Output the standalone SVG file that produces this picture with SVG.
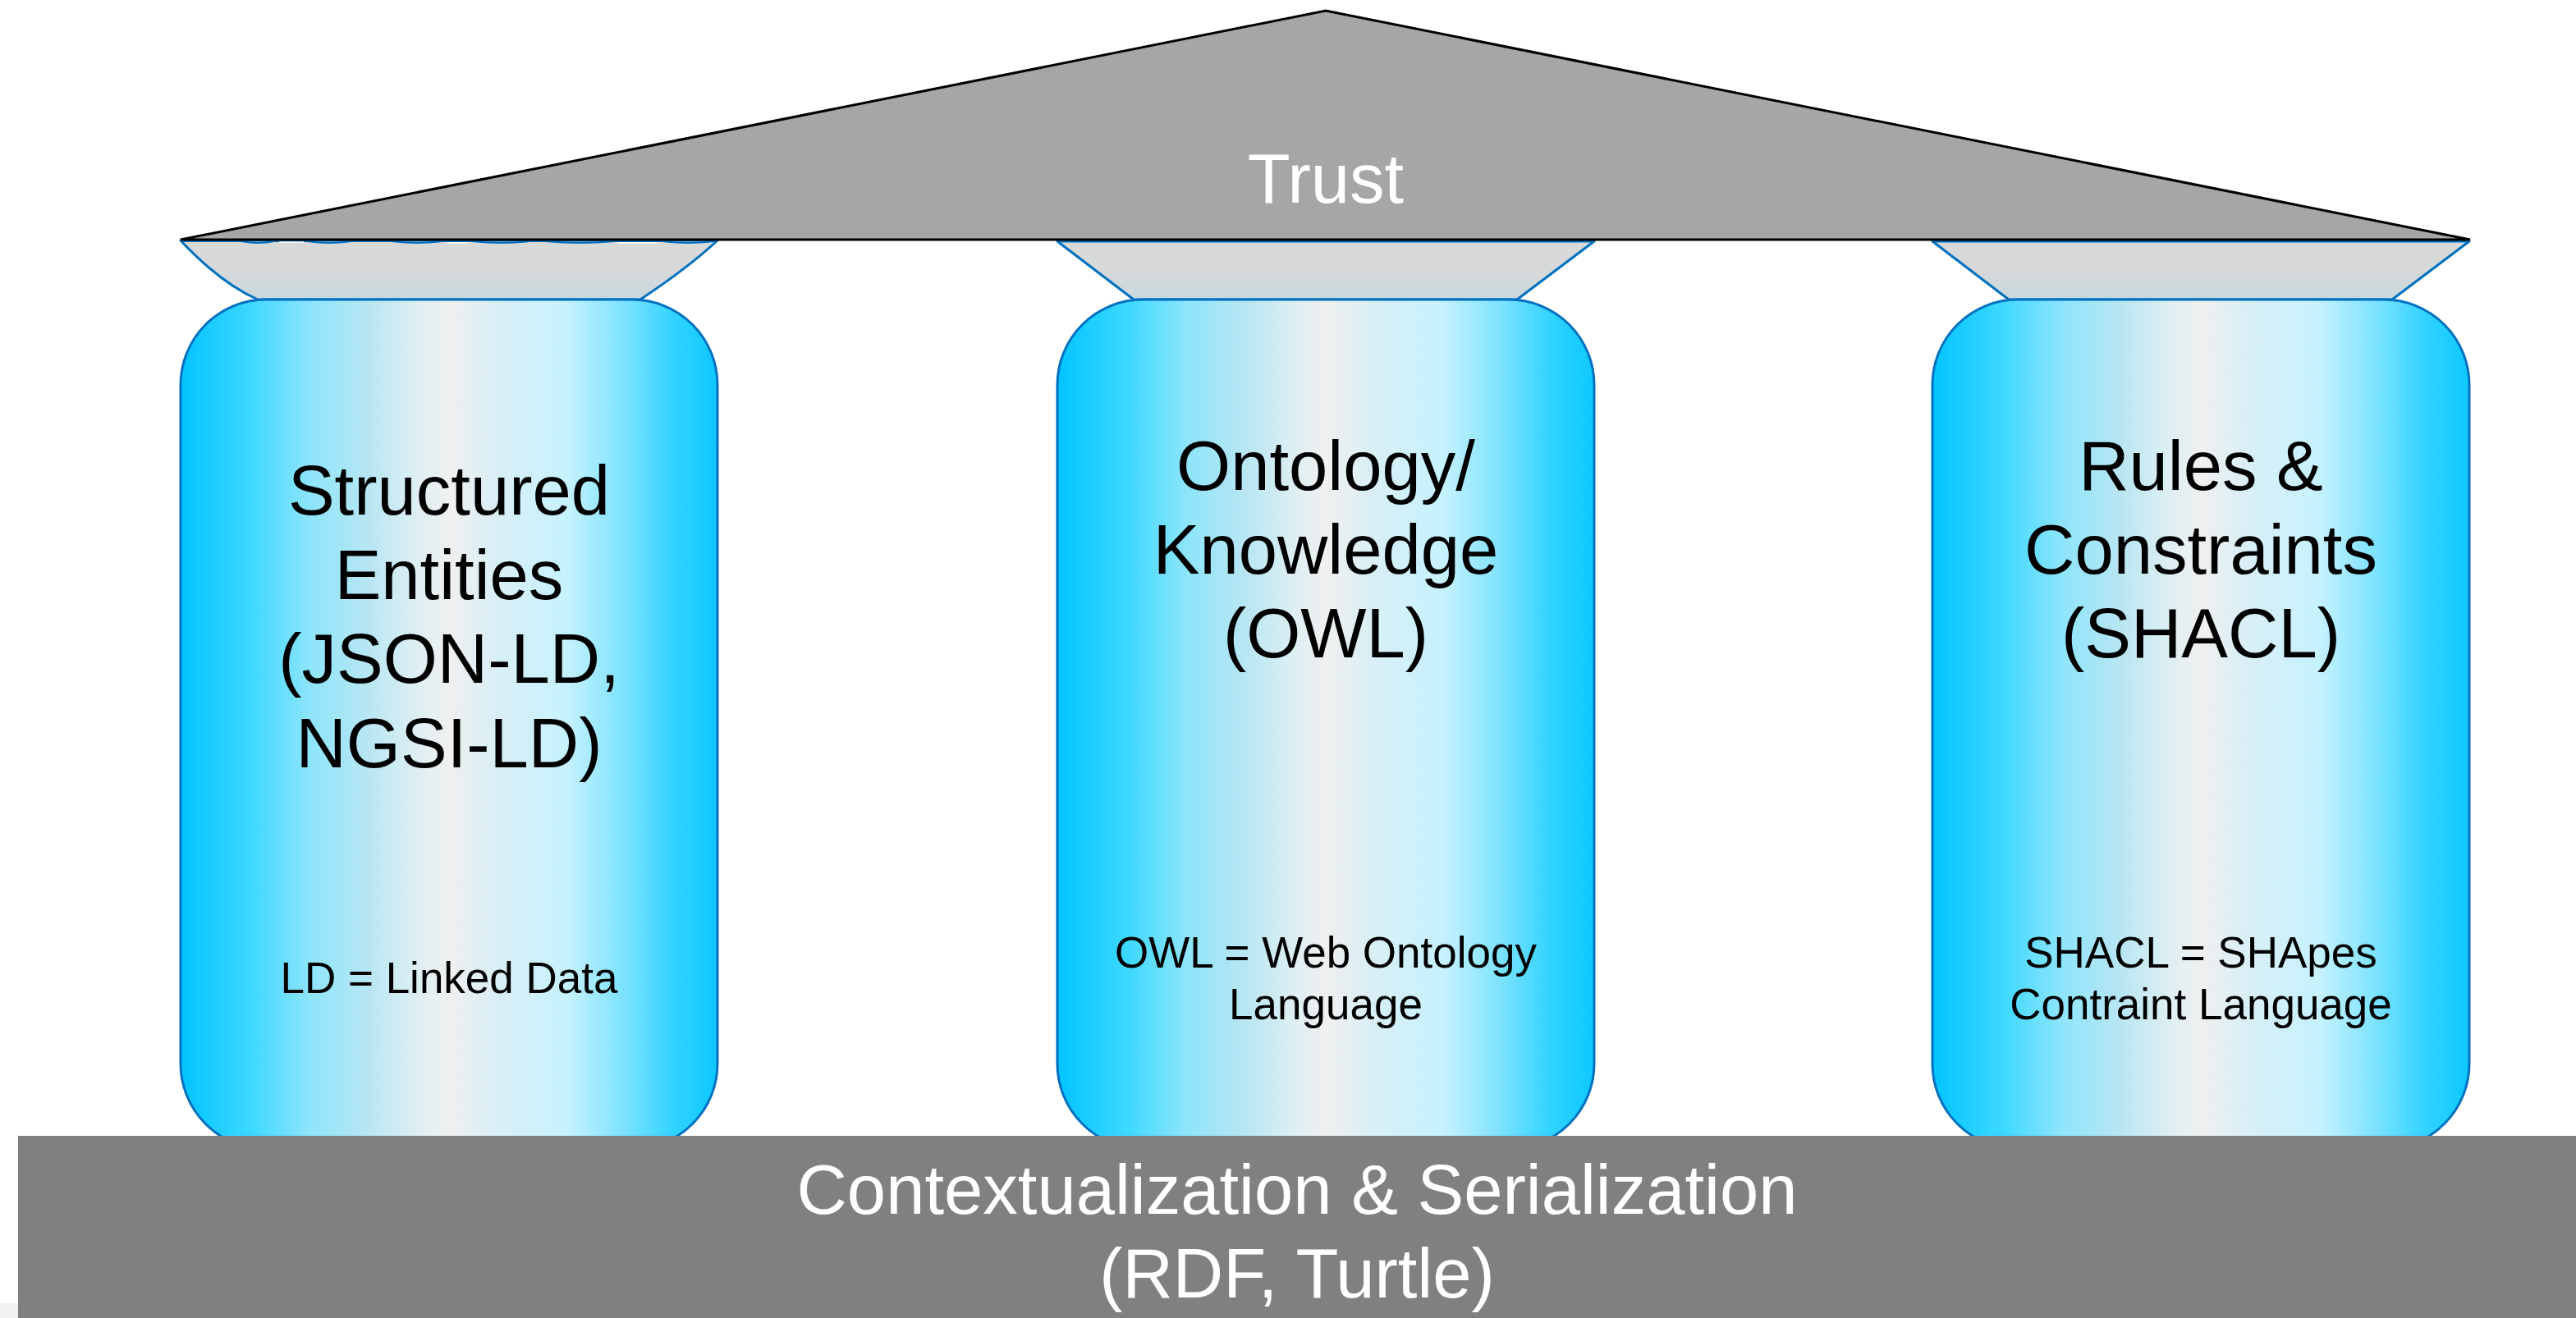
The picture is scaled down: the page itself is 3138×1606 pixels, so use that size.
<svg xmlns="http://www.w3.org/2000/svg" width="3138" height="1606" viewBox="0 0 3138 1606">
  <style>
    .shaft { fill: url(#shaftFill); stroke: #0070C0; stroke-width: 3; }
    .capital { fill: url(#capFill); stroke: #0070C0; stroke-width: 3; stroke-linejoin: round; }
    .big { font-family: "Liberation Sans", Arial, sans-serif; font-size: 85px; fill: #000; text-anchor: middle; }
    .small { font-family: "Liberation Sans", Arial, sans-serif; font-size: 53px; fill: #000; text-anchor: middle; }
    .light { font-family: "Liberation Sans", Arial, sans-serif; font-size: 85px; fill: #FFF; text-anchor: middle; }
  </style>
  <defs>
    <linearGradient id="shaftFill" x1="0" y1="0" x2="1" y2="0">
      <stop offset="0" stop-color="#00C4FF"/>
      <stop offset="0.13" stop-color="#3CD8FF"/>
      <stop offset="0.24" stop-color="#8DE5FB"/>
      <stop offset="0.35" stop-color="#B8E6F3"/>
      <stop offset="0.44" stop-color="#DDEFF3"/>
      <stop offset="0.5" stop-color="#F0F0F0"/>
      <stop offset="0.58" stop-color="#DAEFF5"/>
      <stop offset="0.72" stop-color="#C6F2FF"/>
      <stop offset="0.82" stop-color="#80E3FE"/>
      <stop offset="0.92" stop-color="#30D3FF"/>
      <stop offset="1" stop-color="#0CC8FF"/>
    </linearGradient>
    <linearGradient id="capFill" x1="0" y1="0" x2="0" y2="1">
      <stop offset="0" stop-color="#D9D9D9"/>
      <stop offset="0.55" stop-color="#D6D8D9"/>
      <stop offset="1" stop-color="#C6D8E0"/>
    </linearGradient>
  </defs>

  <!-- faint backdrop strip at the lower left corner -->
  <rect x="0" y="1588" width="22" height="18" fill="#F2F2F2"/>

  <!-- left column: structured entities -->
  <g id="pillar-entities">
    <path class="capital" d="M220,293 C250,325 280,350 314,365 L780,365 C810,345 845,320 874,293 Z"/>
    <!-- scalloped upper rim of the left capital -->
    <path d="M220,294 L294,294 Q314,298 334,294 L374,294 Q401,298 428,294 L477,294 Q508,298 539,294 L575,294 Q610,298 646,294 L664,294 Q706,298 749,294 L807,294 Q838,298 870,294" fill="none" stroke="#0070C0" stroke-width="2"/>
    <path d="M340,295 L370,295 M545,296 L570,296 M752,296 L800,296" fill="none" stroke="#FFF" stroke-width="1.5"/>
    <rect class="shaft" x="220" y="365" width="654" height="1035" rx="104" ry="104"/>
    <text class="big" x="547" y="627">Structured</text>
    <text class="big" x="547" y="730">Entities</text>
    <text class="big" x="547" y="832">(JSON-LD,</text>
    <text class="big" x="547" y="935">NGSI-LD)</text>
    <text class="small" x="547" y="1210">LD = Linked Data</text>
  </g>

  <!-- middle column: ontology -->
  <g id="pillar-ontology">
    <path class="capital" d="M1288,294 L1381,365 L1848,365 L1942,294 Z"/>
    <rect class="shaft" x="1288" y="365" width="654" height="1035" rx="104" ry="104"/>
    <text class="big" x="1615" y="597">Ontology/</text>
    <text class="big" x="1615" y="699">Knowledge</text>
    <text class="big" x="1615" y="801">(OWL)</text>
    <text class="small" x="1615" y="1179">OWL = Web Ontology</text>
    <text class="small" x="1615" y="1242">Language</text>
  </g>

  <!-- right column: rules -->
  <g id="pillar-rules">
    <path class="capital" d="M2354,294 L2447,365 L2914,365 L3008,294 Z"/>
    <rect class="shaft" x="2354" y="365" width="654" height="1035" rx="104" ry="104"/>
    <text class="big" x="2681" y="597">Rules &amp;</text>
    <text class="big" x="2681" y="699">Constraints</text>
    <text class="big" x="2681" y="801">(SHACL)</text>
    <text class="small" x="2681" y="1179">SHACL = SHApes</text>
    <text class="small" x="2681" y="1242">Contraint Language</text>
  </g>

  <!-- roof -->
  <g id="roof">
    <polygon points="220,292 1615,13 3009,292" fill="#A6A6A6" stroke="#000" stroke-width="3" stroke-linejoin="miter"/>
    <text class="light" x="1615" y="247">Trust</text>
  </g>

  <!-- foundation -->
  <g id="foundation">
    <rect x="22" y="1384" width="3116" height="222" fill="#808080"/>
    <text class="light" x="1580" y="1479">Contextualization &amp; Serialization</text>
    <text class="light" x="1580" y="1581">(RDF, Turtle)</text>
  </g>
</svg>
